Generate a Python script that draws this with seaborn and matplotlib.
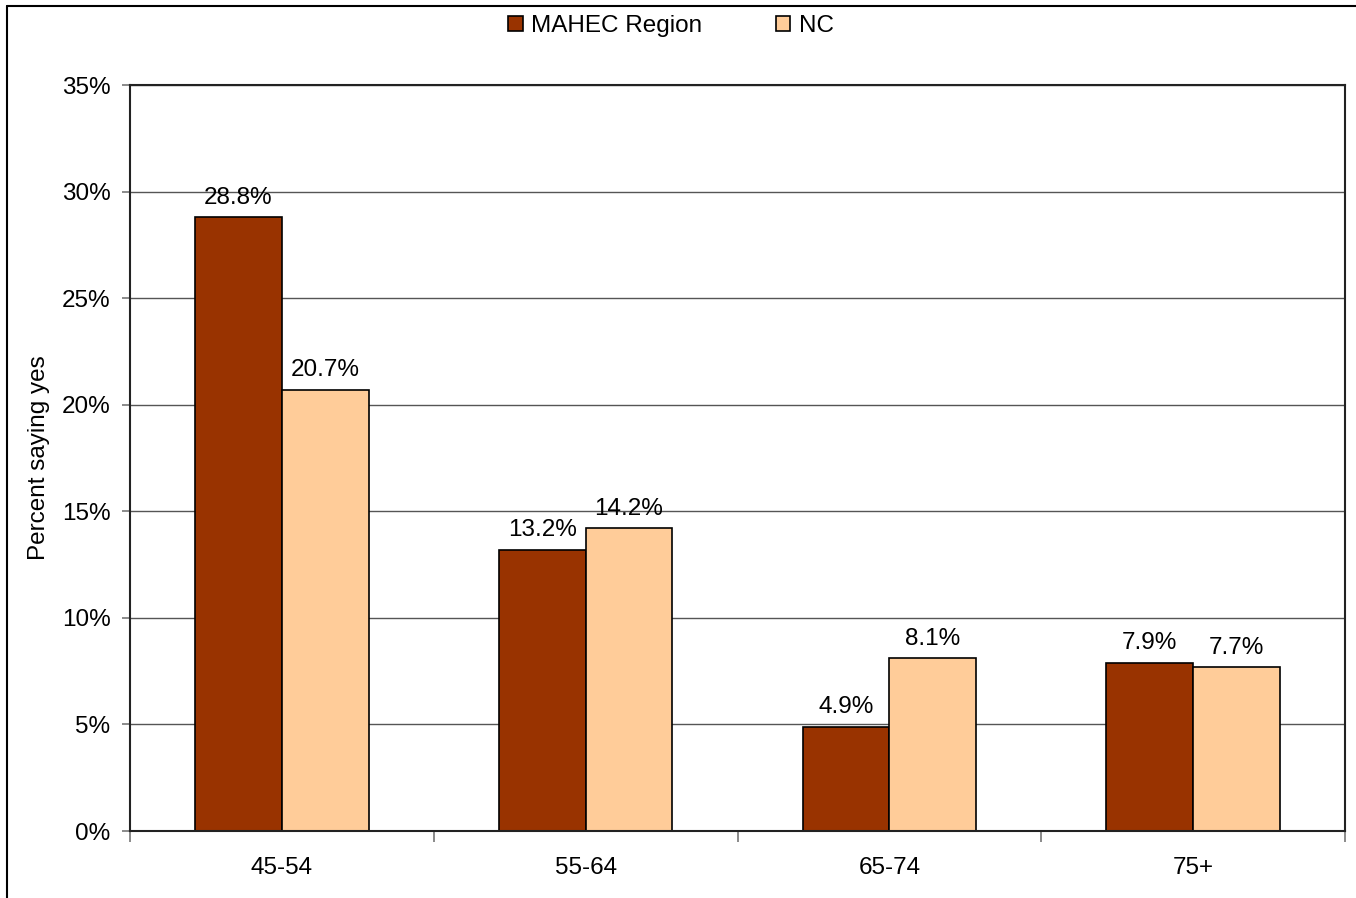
import matplotlib
matplotlib.use("Agg")
import matplotlib.pyplot as plt
import seaborn as sns
import pandas as pd
from matplotlib.ticker import FuncFormatter, MultipleLocator, FixedLocator
from matplotlib.patches import Rectangle
from matplotlib.lines import Line2D

categories = ["45-54", "55-64", "65-74", "75+"]
mahec = [28.8, 13.2, 4.9, 7.9]
nc = [20.7, 14.2, 8.1, 7.7]
series_names = ["MAHEC Region", "NC"]
colors = ["#993300", "#FFCC99"]

df = pd.DataFrame({
    "Age": categories * 2,
    "Value": mahec + nc,
    "Series": [series_names[0]] * 4 + [series_names[1]] * 4,
})

sns.set_theme(style="white")
plt.rcParams["font.family"] = ["Liberation Sans", "DejaVu Sans"]
plt.rcParams["text.color"] = "black"
plt.rcParams["axes.labelcolor"] = "black"

FS = 17.5
fig = plt.figure(figsize=(13.56, 8.98), dpi=100)
ax = fig.add_axes([130/1356, 1-831/898, (1345-130)/1356, (831-85)/898])

sns.barplot(data=df, x="Age", y="Value", hue="Series", palette=colors,
            width=0.572, edgecolor="black", linewidth=1.2, ax=ax,
            legend=False, saturation=1)

ax.set_ylim(0, 35)
ax.set_xlim(-0.5, 3.5)
ax.yaxis.set_major_locator(MultipleLocator(5))
ax.yaxis.set_major_formatter(FuncFormatter(lambda v, p: f"{v:.0f}%"))
ax.grid(axis="y", color="#555555", linewidth=1.0)
ax.set_axisbelow(True)
for s in ax.spines.values():
    s.set_color("#222222")
    s.set_linewidth(1.5)
    s.set_visible(True)

ax.tick_params(axis="y", which="major", length=6, width=1.2, color="#777777",
               labelsize=FS, pad=8, left=True, labelcolor="black")
ax.xaxis.set_major_locator(FixedLocator(range(len(categories))))
ax.set_xticklabels(categories)
ax.xaxis.set_minor_locator(FixedLocator([-0.5, 0.5, 1.5, 2.5, 3.5]))
ax.tick_params(axis="x", which="major", length=0, labelsize=FS, pad=19, labelcolor="black")
ax.tick_params(axis="x", which="minor", length=8, width=1.2, color="#777777", bottom=True)
ax.set_xlabel("")
ax.set_ylabel("Percent saying yes", fontsize=FS, labelpad=8.5, color="black")

for cont in ax.containers:
    ax.bar_label(cont, labels=[f"{v:.1f}%" for v in cont.datavalues],
                 padding=6, fontsize=FS, color="black")

handles = [Rectangle((0, 0), 1, 1, facecolor=c, edgecolor="black", linewidth=1.2) for c in colors]
fig.legend(handles, series_names, loc="center", bbox_to_anchor=(671/1356, 1-26/898),
           ncol=2, frameon=False, fontsize=FS, handlelength=0.6, handleheight=0.6,
           handletextpad=0.35, columnspacing=3.0, labelcolor="black")

fig.add_artist(Line2D([7/1356, 1.0], [1-6/898, 1-6/898], transform=fig.transFigure,
                      color="black", linewidth=1.5))
fig.add_artist(Line2D([7/1356, 7/1356], [0, 1-6/898], transform=fig.transFigure,
                      color="black", linewidth=1.5))

fig.savefig("out.png", dpi=100)
